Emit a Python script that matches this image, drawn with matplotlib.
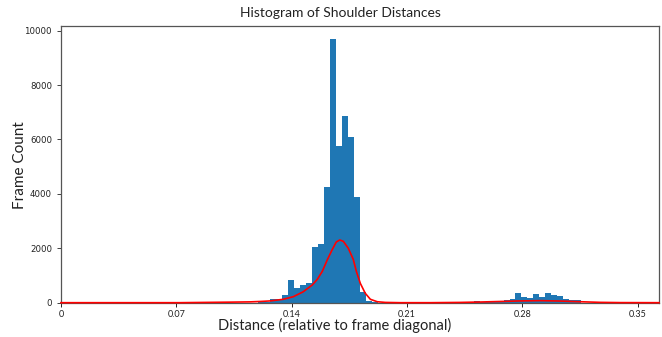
import numpy as np
import matplotlib
matplotlib.use("Agg")
import matplotlib.pyplot as plt

# histogram: 100 equal bins from 0 to 0.363, counts read per bin index
bin_lo = 0.0
bin_hi = 0.363
n_bins = 100
bin_index = [33, 34, 35, 36, 37, 38, 39, 40, 41, 42, 43, 44, 45, 46, 47, 48, 49, 50, 51, 52,
             69, 70, 71, 72, 73, 74, 75, 76, 77, 78, 79, 80, 81, 82, 83, 84, 85, 86]
bin_count = [15, 35, 125, 130, 275, 820, 540, 660, 735, 2060, 2160, 4260, 9680, 5770, 6870, 6100, 3900, 400, 70, 15,
             70, 15, 70, 25, 45, 95, 150, 345, 215, 190, 310, 225, 370, 270, 250, 150, 95, 85]

# fitted density curve
curve_x = [0.0, 0.072, 0.1027, 0.1148, 0.1209, 0.127, 0.1349, 0.141, 0.147, 0.1525, 0.1556, 0.1586,
           0.1616, 0.1647, 0.1671, 0.1692, 0.1714, 0.1744, 0.1774, 0.1793, 0.1817, 0.1847, 0.1878,
           0.192, 0.1969, 0.206, 0.2242, 0.2424, 0.2546, 0.2668, 0.2789, 0.291, 0.3032, 0.3154,
           0.3275, 0.3397, 0.363]
curve_y = [0, 0, 20, 30, 45, 65, 125, 220, 400, 650, 860, 1150,
           1570, 1960, 2230, 2305, 2255, 2000, 1595, 1150, 710, 345, 125,
           35, 10, 0, 0, 10, 25, 45, 65, 75, 60, 35,
           12, 3, 0]

xtick_vals = [0, 0.07, 0.14, 0.21, 0.28, 0.35]
xtick_labels = ["0", "0.07", "0.14", "0.21", "0.28", "0.35"]
ytick_vals = [0, 2000, 4000, 6000, 8000, 10000]

edges = np.linspace(bin_lo, bin_hi, n_bins + 1)
counts = np.zeros(n_bins)
counts[bin_index] = bin_count

fig = plt.figure(figsize=(6.62, 3.37), dpi=100)
ax = fig.add_axes([0.0921, 0.1018, 0.9034, 0.8219])

ax.bar(edges[:-1], counts, width=np.diff(edges), align="edge", color="#1f77b4")
ax.plot(curve_x, curve_y, color="red", linewidth=1.2, zorder=5, clip_on=False)

ax.set_xlim(bin_lo, bin_hi)
ax.set_ylim(0, 10180)
ax.set_xticks(xtick_vals)
ax.set_xticklabels(xtick_labels, fontsize=6.5, family="Lato", color="#222222")
ax.set_yticks(ytick_vals)
ax.tick_params(axis="y", labelsize=6.2, colors="#222222", length=3, width=0.6)
ax.tick_params(axis="x", length=3, width=0.6, pad=2)
for s in ax.spines.values():
    s.set_color("#555555")
    s.set_linewidth(0.9)

fig.text(0.515, 0.961, "Histogram of Shoulder Distances", ha="center", va="center",
         fontsize=10, family="Lato", color="#222222")
fig.text(0.505, 0.033, "Distance (relative to frame diagonal)", ha="center", va="center",
         fontsize=10.5, family="Lato", color="#222222")
fig.text(0.030, 0.51, "Frame Count", ha="center", va="center", rotation=90,
         fontsize=11, family="Lato", color="#222222")

fig.savefig("out.png", dpi=100)
